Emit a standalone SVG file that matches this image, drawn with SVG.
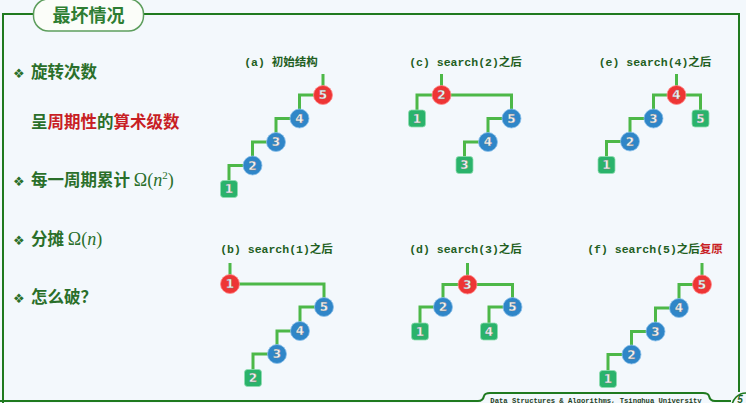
<svg xmlns="http://www.w3.org/2000/svg" width="746" height="403" viewBox="0 0 746 403">
<style>
.frame{fill:none;stroke:#1f7a1f;stroke-width:2}
.edge{fill:none;stroke:#4db848;stroke-width:3;stroke-linejoin:miter}
.red{fill:#ee3535;stroke:#ff8a8a;stroke-width:0.8}
.blue{fill:#2f86c8;stroke:#8cc0ea;stroke-width:0.8}
.sq{fill:#2ab36b;stroke:#8fdcb0;stroke-width:0.8}
.nt{font-family:"DejaVu Sans",sans-serif;font-weight:bold;font-size:12px;fill:#f4f4f4;text-anchor:middle;stroke:#777;stroke-width:0.3}
.cap{font-family:"Liberation Mono","Noto Sans CJK SC",monospace;font-weight:bold;font-size:11.5px;fill:#1f5f1f;text-anchor:middle}
.li{font-family:"Noto Sans CJK SC","Noto Sans",sans-serif;font-weight:bold;font-size:16.5px;fill:#2a6f2a}
.bul{font-family:"DejaVu Sans",sans-serif;font-size:13px;fill:#2a6f2a}
.r{fill:#c81e24}
.m{font-family:"Liberation Serif","DejaVu Serif",serif;font-weight:normal;font-size:18px;fill:#2a6f2a}
</style>
<rect width="746" height="403" fill="#f3f8fc"/>
<g id="frame">
<path class="frame" d="M3,403 V14 H34 M144,14 H739 V392"/>
<path class="frame" d="M0,401 H478 Q483,401 484,396 Q485,393 490,393 H703 Q708,393 709,396 Q710,401 715,401 H731" stroke-width="1.5"/>
<rect x="33.5" y="-1" width="110" height="32" rx="15" fill="#fbfdf9" stroke="#5d9e5d" stroke-width="1.5"/>
<text x="88.5" y="22" font-family="Noto Sans CJK SC,sans-serif" font-weight="bold" font-size="18" fill="#2e7d32" text-anchor="middle">最坏情况</text>
<text x="596" y="402.5" font-family="Liberation Mono,monospace" font-weight="bold" font-size="7.2" fill="#1f3f1f" text-anchor="middle">Data Structures &amp; Algorithms, Tsinghua University</text>
<circle cx="746" cy="407" r="14" fill="#f3f8fc" stroke="#1f7a1f" stroke-width="1.5"/>
<text x="740" y="403" font-family="Liberation Sans,sans-serif" font-weight="bold" font-style="italic" font-size="10" fill="#1f5f1f" text-anchor="middle">5</text>
</g>
<g id="bullets">
<text class="bul" x="13" y="78">❖</text><text class="li" x="31" y="78">旋转次数</text>
<text class="li" x="31" y="128">呈<tspan class="r">周期性</tspan>的<tspan class="r">算术级数</tspan></text>
<text class="bul" x="13" y="186">❖</text><text class="li" x="31" y="186">每一周期累计 <tspan class="m">Ω(<tspan font-style="italic">n</tspan><tspan font-size="11" dy="-7">2</tspan><tspan dy="7">)</tspan></tspan></text>
<text class="bul" x="13" y="245">❖</text><text class="li" x="31" y="245">分摊 <tspan class="m">Ω(<tspan font-style="italic">n</tspan>)</tspan></text>
<text class="bul" x="13" y="303">❖</text><text class="li" x="31" y="303">怎么破？</text>
</g>
<g id="captions">
<text class="cap" x="281" y="66">(a) 初始结构</text>
<text class="cap" x="276.5" y="253">(b) search(1)之后</text>
<text class="cap" x="465.5" y="66">(c) search(2)之后</text>
<text class="cap" x="465.5" y="253">(d) search(3)之后</text>
<text class="cap" x="655" y="66">(e) search(4)之后</text>
<text class="cap" x="655" y="253">(f) search(5)之后<tspan fill="#c81e24">复原</tspan></text>
</g>
<g id="connectors">
<path class="edge" d="M323,74 V95 H299.5 V118.5 H276 V142 H252.5 V165.5 H229 V189"/>
<path class="edge" d="M230,263 V284 H324 V307 H300 V331 H277 V354 H253 V378"/>
<path class="edge" d="M441.5,74 V95 M417,118.5 V95 H511.5 V118.5 H488 V142 H464.5 V165"/>
<path class="edge" d="M467.5,263 V284.5 M443,307 V284.5 H512.5 V307 M443,307 H420 V331.5 M512.5,307 H489 V331.5"/>
<path class="edge" d="M676.5,74 V95 M653.5,118.5 V95 H700.5 V118.5 M653.5,118.5 H630 V141.5 H606.5 V165"/>
<path class="edge" d="M702,263 V284.5 H679 V308 H655.5 V331.5 H631.5 V354.5 H608 V379"/>
</g>
<g id="tree-a">
<g id="a5"><circle class="red" cx="323" cy="95" r="9.5"/><text class="nt" x="323" y="99.3">5</text></g>
<g id="a4"><circle class="blue" cx="299.5" cy="118.5" r="9.5"/><text class="nt" x="299.5" y="122.8">4</text></g>
<g id="a3"><circle class="blue" cx="276" cy="142" r="9.5"/><text class="nt" x="276" y="146.3">3</text></g>
<g id="a2"><circle class="blue" cx="252.5" cy="165.5" r="9.5"/><text class="nt" x="252.5" y="169.8">2</text></g>
<g id="a1"><rect class="sq" x="220.5" y="180.5" width="17" height="17" rx="3"/><text class="nt" x="229" y="193.3">1</text></g>
</g>
<g id="tree-b">
<g id="b1"><circle class="red" cx="230" cy="284" r="9.5"/><text class="nt" x="230" y="288.3">1</text></g>
<g id="b5"><circle class="blue" cx="324" cy="307" r="9.5"/><text class="nt" x="324" y="311.3">5</text></g>
<g id="b4"><circle class="blue" cx="300" cy="331" r="9.5"/><text class="nt" x="300" y="335.3">4</text></g>
<g id="b3"><circle class="blue" cx="277" cy="354" r="9.5"/><text class="nt" x="277" y="358.3">3</text></g>
<g id="b2"><rect class="sq" x="244.5" y="369.5" width="17" height="17" rx="3"/><text class="nt" x="253" y="382.3">2</text></g>
</g>
<g id="tree-c">
<g id="c2"><circle class="red" cx="441.5" cy="95" r="9.5"/><text class="nt" x="441.5" y="99.3">2</text></g>
<g id="c1"><rect class="sq" x="408.5" y="110" width="17" height="17" rx="3"/><text class="nt" x="417" y="122.8">1</text></g>
<g id="c5"><circle class="blue" cx="511.5" cy="118.5" r="9.5"/><text class="nt" x="511.5" y="122.8">5</text></g>
<g id="c4"><circle class="blue" cx="488" cy="142" r="9.5"/><text class="nt" x="488" y="146.3">4</text></g>
<g id="c3"><rect class="sq" x="456" y="156.5" width="17" height="17" rx="3"/><text class="nt" x="464.5" y="169.3">3</text></g>
</g>
<g id="tree-d">
<g id="d3"><circle class="red" cx="467.5" cy="284.5" r="9.5"/><text class="nt" x="467.5" y="288.8">3</text></g>
<g id="d2"><circle class="blue" cx="443" cy="307" r="9.5"/><text class="nt" x="443" y="311.3">2</text></g>
<g id="d5"><circle class="blue" cx="512.5" cy="307" r="9.5"/><text class="nt" x="512.5" y="311.3">5</text></g>
<g id="d1"><rect class="sq" x="411.5" y="323" width="17" height="17" rx="3"/><text class="nt" x="420" y="335.8">1</text></g>
<g id="d4"><rect class="sq" x="480.5" y="323" width="17" height="17" rx="3"/><text class="nt" x="489" y="335.8">4</text></g>
</g>
<g id="tree-e">
<g id="e4"><circle class="red" cx="676.5" cy="95" r="9.5"/><text class="nt" x="676.5" y="99.3">4</text></g>
<g id="e3"><circle class="blue" cx="653.5" cy="118.5" r="9.5"/><text class="nt" x="653.5" y="122.8">3</text></g>
<g id="e5"><rect class="sq" x="692" y="110" width="17" height="17" rx="3"/><text class="nt" x="700.5" y="122.8">5</text></g>
<g id="e2"><circle class="blue" cx="630" cy="141.5" r="9.5"/><text class="nt" x="630" y="145.8">2</text></g>
<g id="e1"><rect class="sq" x="598" y="156.5" width="17" height="17" rx="3"/><text class="nt" x="606.5" y="169.3">1</text></g>
</g>
<g id="tree-f">
<g id="f5"><circle class="red" cx="702" cy="284.5" r="9.5"/><text class="nt" x="702" y="288.8">5</text></g>
<g id="f4"><circle class="blue" cx="679" cy="308" r="9.5"/><text class="nt" x="679" y="312.3">4</text></g>
<g id="f3"><circle class="blue" cx="655.5" cy="331.5" r="9.5"/><text class="nt" x="655.5" y="335.8">3</text></g>
<g id="f2"><circle class="blue" cx="631.5" cy="354.5" r="9.5"/><text class="nt" x="631.5" y="358.8">2</text></g>
<g id="f1"><rect class="sq" x="599.5" y="370.5" width="17" height="17" rx="3"/><text class="nt" x="608" y="383.3">1</text></g>
</g>
</svg>
